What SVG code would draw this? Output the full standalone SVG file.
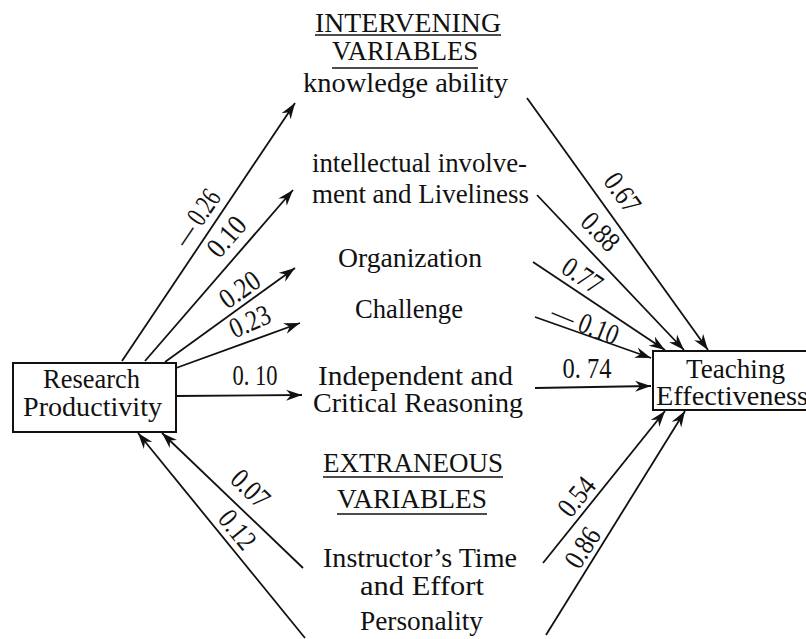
<svg xmlns="http://www.w3.org/2000/svg" width="806" height="639" viewBox="0 0 806 639">
<defs>
<marker id="ah" markerUnits="userSpaceOnUse" markerWidth="18" markerHeight="12" refX="16" refY="6" orient="auto">
<path d="M0,0.5 L16,6 L0,11.5 L5,6 Z" fill="#111"/>
</marker>
<style>
.t{font-family:"Liberation Serif","Times New Roman",serif;font-size:27px;fill:#111}
.n{font-family:"Liberation Serif","Times New Roman",serif;font-size:29px;fill:#111;text-anchor:middle}
.box{fill:#fff;stroke:#111;stroke-width:2}
.ul{stroke:#111;stroke-width:1.6}
.c line{stroke:#111;stroke-width:1.8}
.c .a{marker-end:url(#ah)}
</style>
</defs>
<rect width="806" height="639" fill="#fff"/>

<g id="research-productivity">
<rect class="box" x="13" y="363" width="163" height="69"/>
<text class="t" x="43" y="388" textLength="97" lengthAdjust="spacingAndGlyphs">Research</text>
<text class="t" x="23" y="416" textLength="139" lengthAdjust="spacingAndGlyphs">Productivity</text>
</g>

<g id="teaching-effectiveness">
<rect class="box" x="653" y="351" width="170" height="59"/>
<text class="t" x="686" y="378" textLength="99" lengthAdjust="spacingAndGlyphs">Teaching</text>
<text class="t" x="656" y="405" textLength="152" lengthAdjust="spacingAndGlyphs">Effectiveness</text>
</g>

<g id="intervening-header">
<text class="t" x="315" y="32" textLength="186" lengthAdjust="spacingAndGlyphs">INTERVENING</text>
<line class="ul" x1="315" y1="35" x2="501" y2="35"/>
<text class="t" x="332" y="60" textLength="146" lengthAdjust="spacingAndGlyphs">VARIABLES</text>
<line class="ul" x1="332" y1="68" x2="478" y2="68" stroke-width="2.4"/>
</g>

<g id="knowledge-ability">
<text class="t" x="303" y="92" textLength="205" lengthAdjust="spacingAndGlyphs">knowledge ability</text>
</g>

<g id="intellectual-involvement">
<text class="t" x="312" y="172" textLength="215" lengthAdjust="spacingAndGlyphs">intellectual involve-</text>
<text class="t" x="312" y="203" textLength="217" lengthAdjust="spacingAndGlyphs">ment and Liveliness</text>
</g>

<g id="organization">
<text class="t" x="338" y="267" textLength="144" lengthAdjust="spacingAndGlyphs">Organization</text>
</g>

<g id="challenge">
<text class="t" x="355" y="318" textLength="108" lengthAdjust="spacingAndGlyphs">Challenge</text>
</g>

<g id="independent-critical-reasoning">
<text class="t" x="318" y="385" textLength="195" lengthAdjust="spacingAndGlyphs">Independent and</text>
<text class="t" x="313" y="412" textLength="210" lengthAdjust="spacingAndGlyphs">Critical Reasoning</text>
</g>

<g id="extraneous-header">
<text class="t" x="323" y="472" textLength="180" lengthAdjust="spacingAndGlyphs">EXTRANEOUS</text>
<line class="ul" x1="323" y1="477" x2="503" y2="477"/>
<text class="t" x="337" y="508" textLength="150" lengthAdjust="spacingAndGlyphs">VARIABLES</text>
<line class="ul" x1="337" y1="514" x2="487" y2="514"/>
</g>

<g id="instructors-time">
<text class="t" x="323" y="567" textLength="194" lengthAdjust="spacingAndGlyphs">Instructor’s Time</text>
<text class="t" x="360" y="595" textLength="124" lengthAdjust="spacingAndGlyphs">and  Effort</text>
</g>

<g id="personality">
<text class="t" x="360" y="630" textLength="123" lengthAdjust="spacingAndGlyphs">Personality</text>
</g>

<g id="connectors" class="c">
<line class="a" x1="122" y1="361" x2="295" y2="103"/>
<line class="a" x1="145" y1="361" x2="293" y2="190"/>
<line class="a" x1="165" y1="362" x2="295" y2="268"/>
<line class="a" x1="176" y1="368" x2="300" y2="323"/>
<line class="a" x1="176" y1="396" x2="302" y2="395"/>

<line class="a" x1="303" y1="568" x2="162" y2="433"/>
<line class="a" x1="305" y1="638" x2="138" y2="433"/>

<line class="a" x1="527" y1="98" x2="708" y2="350"/>
<line class="a" x1="537" y1="195" x2="684" y2="350"/>
<line class="a" x1="533" y1="262" x2="665" y2="350"/>
<line class="a" x1="535" y1="317" x2="651" y2="358"/>
<line class="a" x1="535" y1="388" x2="651" y2="386"/>

<line class="a" x1="543" y1="563" x2="665" y2="411"/>
<line class="a" x1="546" y1="635" x2="685" y2="411"/>

<g id="labels">
<text class="n" x="197" y="227" transform="rotate(-56 197 218)" textLength="62" lengthAdjust="spacingAndGlyphs">— 0.26</text>
<text class="n" x="227" y="246" transform="rotate(-49 227 237)" textLength="44" lengthAdjust="spacingAndGlyphs">0.10</text>
<text class="n" x="240" y="299" transform="rotate(-35 240 290)" textLength="43" lengthAdjust="spacingAndGlyphs">0.20</text>
<text class="n" x="250" y="331" transform="rotate(-24 250 322)" textLength="42" lengthAdjust="spacingAndGlyphs">0.23</text>
<text class="n" x="255" y="385" textLength="45" lengthAdjust="spacingAndGlyphs">0. 10</text>
<text class="n" x="250" y="498" transform="rotate(44 250 489)" textLength="42" lengthAdjust="spacingAndGlyphs">0.07</text>
<text class="n" x="237" y="539" transform="rotate(51 237 530)" textLength="42" lengthAdjust="spacingAndGlyphs">0.12</text>
<text class="n" x="622" y="202" transform="rotate(54 622 193)" textLength="42" lengthAdjust="spacingAndGlyphs">0.67</text>
<text class="n" x="600" y="241" transform="rotate(46 600 232)" textLength="42" lengthAdjust="spacingAndGlyphs">0.88</text>
<text class="n" x="582" y="285" transform="rotate(34 582 276)" textLength="42" lengthAdjust="spacingAndGlyphs">0.77</text>
<text class="n" x="585" y="333" transform="rotate(22 585 324)" textLength="70" lengthAdjust="spacingAndGlyphs">— 0.10</text>
<text class="n" x="587" y="378" textLength="49" lengthAdjust="spacingAndGlyphs">0. 74</text>
<text class="n" x="577" y="506" transform="rotate(-51 577 497)" textLength="42" lengthAdjust="spacingAndGlyphs">0.54</text>
<text class="n" x="583" y="557" transform="rotate(-58 583 548)" textLength="42" lengthAdjust="spacingAndGlyphs">0.86</text>
</g>
</g>
</svg>
